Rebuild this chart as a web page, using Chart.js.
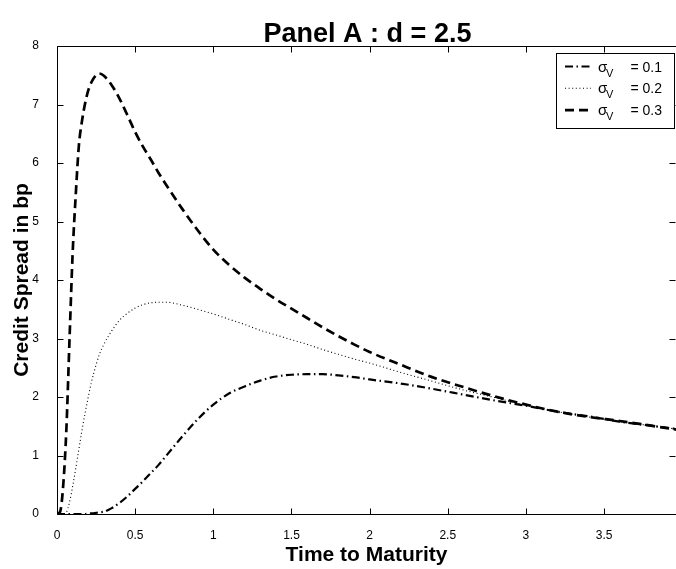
<!DOCTYPE html>
<html>
<head>
<meta charset="utf-8">
<script src="https://cdn.jsdelivr.net/npm/chart.js@4.4.1/dist/chart.umd.min.js"></script>
<style>
    html, body { margin: 0; padding: 0; background: #fff; overflow: hidden; }
    #wrap { width: 676px; height: 569px; }
</style>
</head>
<body>
<div id="wrap"><canvas id="spreadChart" width="676" height="569"></canvas></div>
<script>
// --- DATA ---
const maturity = [0, 0.02, 0.04, 0.06, 0.08, 0.1, 0.12, 0.14, 0.16, 0.18,
    0.2, 0.22, 0.25, 0.27, 0.3, 0.35, 0.4, 0.45, 0.5, 0.55,
    0.6, 0.65, 0.7, 0.8, 0.9, 1.0, 1.1, 1.2, 1.3, 1.4,
    1.5, 1.6, 1.7, 1.8, 1.9, 2.0, 2.2, 2.4, 2.6, 2.8,
    3.0, 3.2, 3.4, 3.6, 3.8, 3.97];
const spreadSigma01 = [0, 0, 0, 0, 0, 0, 0, 0, 0, 0,
    0.01, 0.01, 0.02, 0.03, 0.04, 0.1, 0.19, 0.3, 0.43, 0.56,
    0.7, 0.84, 1.0, 1.32, 1.62, 1.87, 2.06, 2.18, 2.28, 2.35,
    2.38, 2.39, 2.39, 2.37, 2.34, 2.3, 2.23, 2.14, 2.04, 1.94,
    1.85, 1.75, 1.67, 1.58, 1.51, 1.45];
const spreadSigma02 = [0, 0, 0, 0.03, 0.2, 0.47, 0.78, 1.11, 1.43, 1.73,
    2.0, 2.25, 2.55, 2.72, 2.9, 3.13, 3.31, 3.43, 3.52, 3.58,
    3.61, 3.62, 3.62, 3.57, 3.5, 3.42, 3.33, 3.24, 3.14, 3.06,
    2.98, 2.9, 2.81, 2.73, 2.65, 2.58, 2.42, 2.27, 2.12, 1.99,
    1.86, 1.75, 1.66, 1.58, 1.51, 1.45];
const spreadSigma03 = [0, 0.04, 0.5, 1.45, 2.98, 4.45, 5.46, 6.3, 6.72, 7.02,
    7.24, 7.38, 7.5, 7.53, 7.49, 7.33, 7.1, 6.82, 6.53, 6.28,
    6.06, 5.83, 5.62, 5.22, 4.85, 4.52, 4.26, 4.04, 3.85, 3.67,
    3.51, 3.35, 3.19, 3.04, 2.9, 2.77, 2.55, 2.34, 2.17, 2.01,
    1.87, 1.75, 1.66, 1.59, 1.51, 1.44];
const sigmaLabels = ['0.1', '0.2', '0.3'];

const FONT = '"Liberation Sans", Arial, Helvetica, sans-serif';
Chart.defaults.font.family = FONT;
Chart.defaults.color = '#000';

const toPoints = vals => vals.map((v, i) => ({ x: maturity[i], y: v }));

// --- PLUGINS: frame with inward ticks, title, legend ---
const frame = {
    id: 'frame',
    afterDatasetsDraw(chart) {
        const { ctx, chartArea: a, scales: { x, y } } = chart;
        const L = Math.round(a.left) + 0.5, T = Math.round(a.top) + 0.5;
        const B = Math.round(a.bottom) + 0.5, R = Math.round(a.right) + 0.5;
        ctx.save();
        ctx.strokeStyle = '#000';
        ctx.lineWidth = 1;
        ctx.beginPath();
        ctx.moveTo(R, T); ctx.lineTo(L, T); ctx.lineTo(L, B); ctx.lineTo(R, B);
        x.ticks.forEach(t => {
            const px = Math.round(x.getPixelForValue(t.value)) + 0.5;
            ctx.moveTo(px, B); ctx.lineTo(px, B - 6);
            ctx.moveTo(px, T); ctx.lineTo(px, T + 6);
        });
        y.ticks.forEach(t => {
            const py = Math.round(y.getPixelForValue(t.value)) + 0.5;
            ctx.moveTo(L, py); ctx.lineTo(L + 6, py);
            ctx.moveTo(R - 1, py); ctx.lineTo(R - 7, py);
        });
        ctx.stroke();
        ctx.restore();
    }
};

const panelTitle = {
    id: 'panelTitle',
    afterDraw(chart) {
        const { ctx, chartArea: a } = chart;
        ctx.save();
        ctx.fillStyle = '#000';
        ctx.font = 'bold 27px ' + FONT;
        ctx.textAlign = 'center';
        ctx.textBaseline = 'alphabetic';
        ctx.fillText('Panel A : d = 2.5', (a.left + a.right) / 2 + 1, 42);
        ctx.restore();
    }
};

const sigmaLegend = {
    id: 'sigmaLegend',
    afterDraw(chart) {
        const { ctx } = chart;
        const box = { left: 556, top: 53, right: 674, bottom: 128 };
        ctx.save();
        ctx.fillStyle = '#fff';
        ctx.fillRect(box.left, box.top, box.right - box.left, box.bottom - box.top);
        ctx.strokeStyle = '#000';
        ctx.lineWidth = 1;
        ctx.strokeRect(box.left + 0.5, box.top + 0.5, box.right - box.left, box.bottom - box.top);
        chart.data.datasets.forEach((ds, i) => {
            const yMid = 66.5 + i * 21.8;
            ctx.strokeStyle = '#000';
            ctx.lineWidth = ds.borderWidth;
            ctx.setLineDash(ds.borderDash);
            ctx.beginPath();
            ctx.moveTo(565, yMid);
            ctx.lineTo(591, yMid);
            ctx.stroke();
            ctx.setLineDash([]);
            const base = yMid + 5;
            ctx.fillStyle = '#000';
            ctx.textBaseline = 'alphabetic';
            ctx.textAlign = 'left';
            ctx.font = '15px ' + FONT;
            ctx.fillText('\u03c3', 598, base);
            ctx.font = '11px ' + FONT;
            ctx.fillText('V', 606, base + 5);
            ctx.font = '14px ' + FONT;
            ctx.textAlign = 'right';
            ctx.fillText('= ' + sigmaLabels[i], 662, base);
        });
        ctx.restore();
    }
};

// --- CHART ---
const spreadCtx = document.getElementById('spreadChart').getContext('2d');
new Chart(spreadCtx, {
    type: 'line',
    data: {
        datasets: [{
            label: '\u03c3V = ' + sigmaLabels[0],
            data: toPoints(spreadSigma01),
            borderColor: '#000',
            borderWidth: 2.2,
            borderDash: [8, 3.5, 1.5, 3.5]
        }, {
            label: '\u03c3V = ' + sigmaLabels[1],
            data: toPoints(spreadSigma02),
            borderColor: '#000',
            borderWidth: 1.1,
            borderDash: [1, 2.6]
        }, {
            label: '\u03c3V = ' + sigmaLabels[2],
            data: toPoints(spreadSigma03),
            borderColor: '#000',
            borderWidth: 2.7,
            borderDash: [9, 5]
        }]
    },
    options: {
        responsive: false,
        animation: false,
        layout: { padding: { top: 46, right: 0, bottom: 0, left: 0 } },
        elements: {
            point: { radius: 0 },
            line: { cubicInterpolationMode: 'monotone', fill: false, borderCapStyle: 'butt' }
        },
        plugins: { legend: { display: false }, tooltip: { enabled: false } },
        scales: {
            x: {
                type: 'linear',
                min: 0,
                max: 3.96,
                grid: { display: false },
                border: { display: false },
                ticks: {
                    stepSize: 0.5, includeBounds: false, padding: 6,
                    font: { size: 12 }, maxRotation: 0,
                    callback: v => String(v)
                },
                title: {
                    display: true,
                    text: 'Time to Maturity',
                    font: { size: 21, weight: 'bold' },
                    padding: { top: 0, bottom: 1 }
                },
                afterFit: s => { s.height = 55; }
            },
            y: {
                min: 0,
                max: 8,
                grid: { display: false },
                border: { display: false },
                ticks: { stepSize: 1, padding: 10, font: { size: 12 }, callback: v => String(v) },
                title: {
                    display: true,
                    text: 'Credit Spread in bp',
                    font: { size: 21, weight: 'bold' },
                    padding: { top: 10, bottom: 0 }
                },
                afterFit: s => { s.width = 57; }
            }
        }
    },
    plugins: [frame, panelTitle, sigmaLegend]
});
</script>
</body>
</html>
